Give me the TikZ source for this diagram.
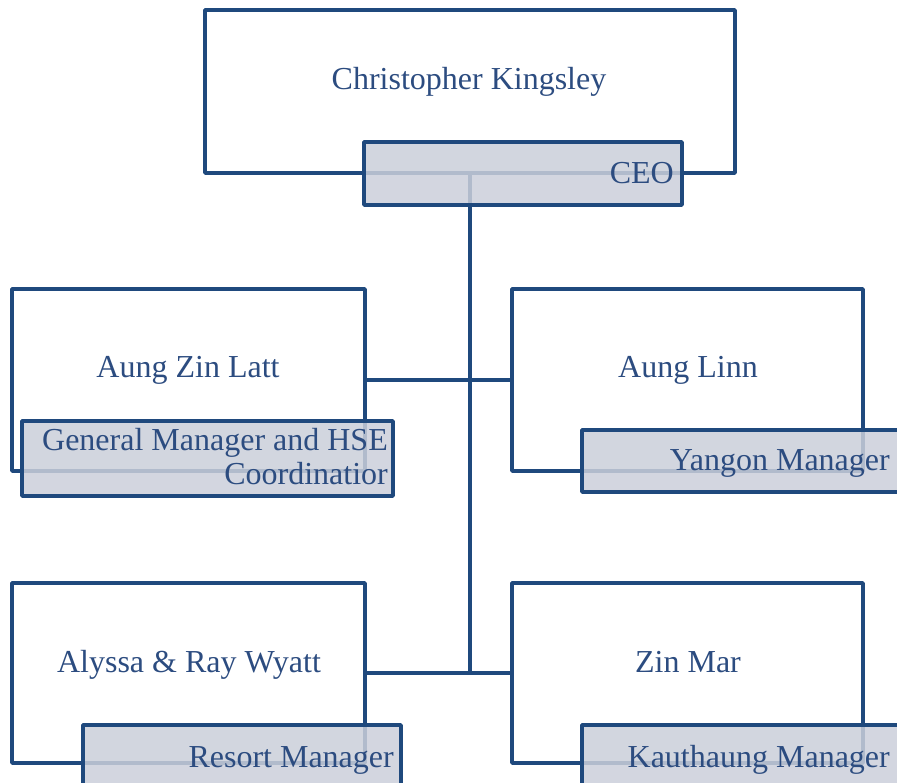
\documentclass[tikz,border=0pt]{standalone}
\usepackage{fontspec}
\setmainfont{Liberation Serif}
\definecolor{lineblue}{RGB}{31,73,125}
\definecolor{textblue}{RGB}{44,76,128}
\definecolor{rolefill}{RGB}{203,207,218}
\begin{document}
\begin{tikzpicture}[x=1pt,y=-1pt,
  namebox/.style={draw=lineblue, line width=3.8pt, fill=white, inner sep=0pt, line join=round},
  rolebox/.style={draw=lineblue, line width=3.8pt, fill=rolefill, fill opacity=0.85, draw opacity=1, inner sep=0pt, line join=round},
  conn/.style={draw=lineblue, line width=3.8pt},
  lbl/.style={text=textblue, font=\fontsize{32}{34}\selectfont, inner sep=0pt},
  rolelbl/.style={lbl, anchor=base east, align=right}]
\useasboundingbox (0,0) rectangle (897,782);
\begin{scope}
\clip (0,0) rectangle (897,782);
% name boxes
\node[namebox, minimum width=530pt, minimum height=163pt] (ceo) at (470,91.5) {};
\node[namebox, minimum width=353pt, minimum height=182pt] (azl) at (188.5,380) {};
\node[namebox, minimum width=351pt, minimum height=182pt] (al) at (687.5,380) {};
\node[namebox, minimum width=353pt, minimum height=180pt] (aw) at (188.5,673) {};
\node[namebox, minimum width=351pt, minimum height=180pt] (zm) at (687.5,673) {};
% connectors
\coordinate (jb) at (ceo.south |- aw.east);
\draw[conn] (ceo.south) -- (jb);
\draw[conn] (azl.east) -- (al.west);
\draw[conn] (aw.east) -- (zm.west);
% role boxes
\node[rolebox, minimum width=318pt, minimum height=63pt] (ceor) at (523,173.5) {};
\node[rolebox, minimum width=371pt, minimum height=75pt] (azlr) at (207.5,458.5) {};
\node[rolebox, minimum width=328pt, minimum height=62pt] (alr) at (746,461) {};
\node[rolebox, minimum width=318pt, minimum height=70pt] (awr) at (242,760) {};
\node[rolebox, minimum width=328pt, minimum height=70pt] (zmr) at (746,760) {};
% name labels
\node[lbl, anchor=base] (tceo) at (469,89) {Christopher Kingsley};
\node[lbl, anchor=base] (tazl) at (188,377) {Aung Zin Latt};
\node[lbl, anchor=base] (tal) at (688,377) {Aung Linn};
\node[lbl, anchor=base] (taw) at (189,672) {Alyssa \& Ray Wyatt};
\node[lbl, anchor=base] (tzm) at (688,672) {Zin Mar};
% role labels
\node[rolelbl] (rceo) at (674,183) {CEO};
\node[rolelbl] (razl1) at (388,450) {General Manager and HSE};
\node[rolelbl] (razl2) at (388,484) {Coordinatior};
\node[rolelbl] (ral) at (890,470) {Yangon Manager};
\node[rolelbl] (raw) at (394,767) {Resort Manager};
\node[rolelbl] (rzm) at (890,767) {Kauthaung Manager};
\end{scope}
\end{tikzpicture}
\end{document}
